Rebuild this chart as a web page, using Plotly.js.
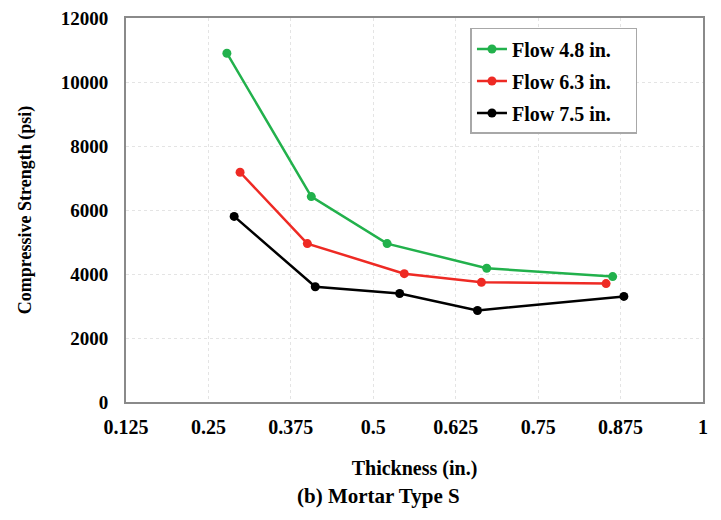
<!DOCTYPE html>
<html>
<head>
<meta charset="utf-8">
<script src="https://cdn.plot.ly/plotly-3.0.1.min.js"></script>
<style>html,body{margin:0;padding:0;background:#fff;}#chart{width:721px;height:520px;}</style>
</head>
<body>
<div id="chart"></div>
<script>
const seriesNames = ["Flow 4.8 in.", "Flow 6.3 in.", "Flow 7.5 in."];
const flow48X = [0.278, 0.406, 0.521, 0.672, 0.863];
const flow48Y = [10900, 6420, 4950, 4180, 3920];
const flow63X = [0.298, 0.400, 0.547, 0.664, 0.853];
const flow63Y = [7180, 4950, 4010, 3740, 3700];
const flow75X = [0.289, 0.412, 0.540, 0.658, 0.880];
const flow75Y = [5800, 3600, 3390, 2860, 3300];
const xTicks = [0.125, 0.25, 0.375, 0.5, 0.625, 0.75, 0.875, 1];
const xTickText = ["0.125", "0.25", "0.375", "0.5", "0.625", "0.75", "0.875", "1"];
const yTicks = [0, 2000, 4000, 6000, 8000, 10000, 12000];
const yTickText = ["0", "2000", "4000", "6000", "8000", "10000", "12000"];
const colors = ["#22b14c", "#ee2a24", "#000000"];

const fam = "Liberation Serif, Times New Roman, serif";
const pad = "\u00a0\u00a0\u00a0\u00a0";
function mk(x, y, name, c, g) {
  return {x: x, y: y, name: name + pad, type: "scatter", mode: "lines+markers", legendgroup: g,
    line: {color: c, width: 2.5}, marker: {color: c, size: 9}};
}
const data = [
  mk(flow48X, flow48Y, seriesNames[0], colors[0], "a"),
  mk(flow63X, flow63Y, seriesNames[1], colors[1], "b"),
  mk(flow75X, flow75Y, seriesNames[2], colors[2], "c")
];
const layout = {
  width: 721, height: 520,
  margin: {l: 126, r: 18, t: 18, b: 118},
  paper_bgcolor: "#fff", plot_bgcolor: "#fff",
  showlegend: true,
  legend: {x: 0.597, y: 0.974, xanchor: "left", yanchor: "top",
    bgcolor: "#fff", bordercolor: "#a8a8a8", borderwidth: 1.5,
    font: {family: fam, size: 20, color: "#000", weight: "bold"},
    tracegroupgap: 3, itemwidth: 30},
  xaxis: {range: [0.125, 1], tickvals: xTicks, ticktext: xTickText,
    showgrid: true, gridcolor: "#e4e4e4", griddash: "dot", gridwidth: 1,
    zeroline: false, showline: true, mirror: true, linecolor: "#8a8a8a", linewidth: 2,
    ticks: "", tickfont: {family: fam, size: 20, color: "#000", weight: "bold"},
    ticklabelstandoff: 6,
    title: {text: "Thickness (in.)", standoff: 24,
      font: {family: fam, size: 20, color: "#000", weight: "bold"}}},
  yaxis: {range: [0, 12000], tickvals: yTicks, ticktext: yTickText,
    showgrid: true, gridcolor: "#e4e4e4", griddash: "dot", gridwidth: 1,
    zeroline: false, showline: true, mirror: true, linecolor: "#8a8a8a", linewidth: 2,
    ticks: "", tickfont: {family: fam, size: 19, color: "#000", weight: "bold"},
    ticklabelstandoff: 12,
    title: {text: "Compressive Strength (psi)", standoff: 24,
      font: {family: fam, size: 18, color: "#000", weight: "bold"}}},
  annotations: [{text: "(b) Mortar Type S", xref: "paper", yref: "paper",
    x: 0.437, y: -0.245, xanchor: "center", yanchor: "middle", showarrow: false,
    font: {family: fam, size: 21, color: "#000", weight: "bold"}}]
};
Plotly.newPlot("chart", data, layout, {displayModeBar: false, staticPlot: true});
</script>
</body>
</html>
